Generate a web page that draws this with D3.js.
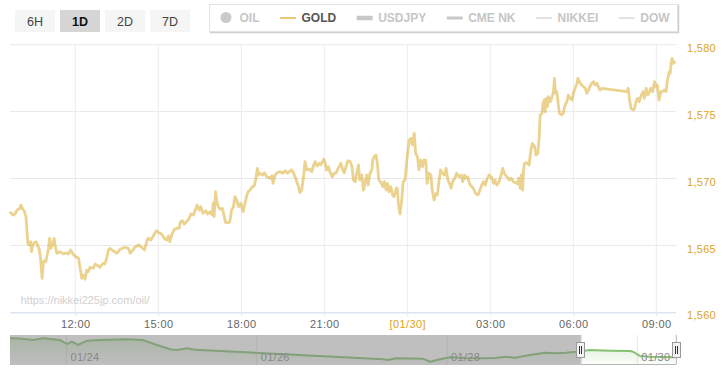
<!DOCTYPE html>
<html><head><meta charset="utf-8">
<script src="https://cdn.jsdelivr.net/npm/d3@7"></script>
<style>
body{margin:0;background:#fff;}
svg{display:block;font-family:"Liberation Sans",Arial,Helvetica,sans-serif;}
</style></head><body>
<svg id="chart" width="726" height="380"></svg>
<script>
// ---------- data ----------
const rangeButtons = ["6H","1D","2D","7D"];
const selectedButton = "1D";
const legendItems = ["OIL","GOLD","USDJPY","CME NK","NIKKEI","DOW"];
const activeSeries = "GOLD";
const watermark = "https://nikkei225jp.com/oil/";

const viewStart = "2020-01-29 09:38:24";
const viewEnd   = "2020-01-30 09:42:36";
const startDay  = "2020-01-29";

const goldTime = [
"09:38","09:42","09:46","09:49","09:53","09:56","10:00","10:02","10:05","10:09","10:13","10:15","10:17","10:20","10:23","10:25","10:28","10:31","10:35","10:38",
"10:42","10:45","10:48","10:51","10:53","10:56","10:59","11:02","11:04","11:07","11:10","11:14","11:16","11:20","11:27","11:34","11:41","11:45","11:50","11:54",
"11:59","12:07","12:10","12:14","12:17","12:21","12:25","12:28","12:32","12:39","12:43","12:50","12:54","12:57","13:01","13:04","13:08","13:12","13:15","13:22",
"13:30","13:37","13:48","13:55","13:59","14:02","14:06","14:09","14:17","14:24","14:30","14:35","14:38","14:44","14:49","14:53","14:56","15:01","15:07","15:13",
"15:18","15:22","15:25","15:29","15:35","15:40","15:45","15:48","15:52","15:56","16:01","16:06","16:11","16:16","16:19","16:24","16:29","16:32","16:37","16:43",
"16:47","16:52","16:57","16:59","17:01","17:04","17:07","17:10","17:14","17:19","17:23","17:26","17:32","17:35","17:39","17:43","17:46","17:50","17:54","17:59",
"18:04","18:08","18:12","18:15","18:19","18:24","18:28","18:31","18:35","18:37","18:41","18:46","18:50","18:55","19:02","19:06","19:09","19:13","19:18","19:24",
"19:30","19:35","19:40","19:44","19:49","19:53","19:59","20:04","20:07","20:11","20:15","20:18","20:22","20:28","20:33","20:36","20:40","20:44","20:49","20:52",
"20:56","20:59","21:02","21:05","21:09","21:12","21:17","21:21","21:25","21:30","21:36","21:40","21:43","21:47","21:51","21:56","22:00","22:03","22:07","22:10",
"22:14","22:17","22:21","22:25","22:28","22:32","22:35","22:39","22:43","22:45","22:48","22:52","22:55","22:58","23:02","23:07","23:10","23:14","23:17","23:20",
"23:24","23:28","23:31","23:36","23:38","23:41","23:44","23:48","23:51","23:55","23:59","00:04","00:08","00:11","00:15","00:18","00:22","00:25","00:29","00:33",
"00:36","00:40","00:43","00:47","00:51","00:54","00:58","01:02","01:05","01:09","01:12","01:16","01:20","01:24","01:28","01:31","01:35","01:38","01:43","01:47",
"01:52","01:57","02:00","02:04","02:07","02:11","02:16","02:20","02:23","02:28","02:33","02:36","02:40","02:45","02:49","02:52","02:57","03:02","03:07","03:10",
"03:14","03:19","03:23","03:27","03:30","03:36","03:41","03:45","03:50","03:55","03:59","04:02","04:05","04:07","04:10","04:12","04:14","04:19","04:24","04:28",
"04:31","04:36","04:39","04:43","04:46","04:48","04:52","04:54","04:57","04:59","05:01","05:04","05:06","05:10","05:13","05:17","05:19","05:21","05:24","05:28",
"05:30","05:35","05:38","05:42","05:46","05:49","05:53","05:57","06:00","06:04","06:08","06:10","06:13","06:18","06:22","06:26","06:29","06:33","06:36","06:40",
"06:44","06:47","06:51","06:54","06:58","07:02","07:56","07:59","08:02","08:05","08:09","08:12","08:16","08:19","08:23","08:26","08:31","08:34","08:38","08:41",
"08:44","08:48","08:52","08:56","09:00","09:02","09:06","09:10","09:13","09:17","09:21","09:24","09:28","09:30","09:32","09:34","09:36","09:38","09:41"
];
const goldPrice = [
1567.52,1567.35,1567.27,1567.35,1567.59,1567.70,1567.77,1568.02,1567.77,1567.59,1567.15,1566.15,1565.16,1565.03,1565.28,1564.53,1565.03,1565.20,1565.28,1565.03,
1564.66,1563.91,1562.54,1563.78,1563.86,1563.78,1564.28,1564.78,1565.53,1564.78,1565.03,1565.53,1565.03,1564.41,1564.53,1564.36,1564.45,1564.36,1564.66,1564.41,
1564.21,1564.04,1563.41,1562.54,1562.79,1562.47,1563.16,1563.03,1563.36,1563.29,1563.61,1563.46,1563.36,1563.54,1563.66,1563.61,1564.04,1564.66,1564.78,1564.60,
1564.41,1564.71,1564.86,1564.78,1564.41,1564.53,1564.71,1564.86,1565.03,1564.86,1564.66,1565.28,1565.53,1565.40,1565.70,1565.95,1566.10,1565.95,1565.85,1565.53,
1565.40,1565.70,1565.28,1565.78,1566.20,1566.28,1566.28,1566.77,1566.85,1566.60,1566.77,1566.95,1567.35,1567.27,1567.52,1568.02,1567.65,1567.89,1567.40,1567.59,
1567.35,1567.52,1567.27,1568.15,1567.15,1569.01,1568.27,1567.89,1567.70,1567.77,1567.15,1566.70,1566.70,1566.77,1567.65,1567.89,1568.64,1568.39,1567.89,1568.15,
1567.52,1568.15,1568.77,1569.01,1569.14,1569.39,1569.44,1569.89,1570.76,1570.26,1570.39,1570.26,1570.43,1570.13,1570.02,1570.19,1569.64,1570.26,1570.43,1570.51,
1570.39,1570.58,1570.39,1570.51,1570.64,1570.43,1569.89,1569.39,1568.94,1569.14,1570.13,1571.26,1570.64,1570.69,1570.51,1570.93,1571.26,1570.93,1571.14,1571.01,
1571.26,1571.44,1571.14,1570.64,1570.88,1570.51,1570.13,1570.39,1570.39,1570.76,1571.14,1570.64,1570.43,1570.88,1571.33,1571.26,1570.88,1569.89,1569.76,1570.39,
1571.01,1569.89,1570.26,1569.14,1569.64,1570.26,1569.51,1570.39,1570.64,1571.38,1571.63,1571.76,1571.14,1569.89,1569.76,1569.39,1569.76,1569.14,1569.64,1569.01,
1569.39,1568.77,1568.64,1569.27,1569.27,1568.02,1567.35,1568.39,1569.76,1569.89,1571.38,1572.88,1573.00,1572.50,1573.38,1571.88,1571.63,1570.64,1571.38,1570.88,
1571.38,1571.38,1569.64,1570.39,1570.26,1569.14,1568.39,1568.89,1568.77,1569.89,1570.64,1570.39,1570.26,1570.76,1569.89,1569.64,1569.27,1569.76,1570.02,1570.39,
1570.13,1570.26,1569.76,1570.26,1570.02,1570.13,1569.51,1569.39,1569.27,1568.89,1568.77,1569.01,1569.39,1569.76,1569.51,1569.89,1570.26,1570.13,1569.64,1569.89,
1569.51,1569.76,1570.26,1570.76,1570.39,1570.13,1569.89,1570.02,1569.76,1569.69,1569.59,1570.02,1569.27,1570.26,1569.14,1570.64,1571.14,1571.18,1571.01,1572.13,
1572.63,1572.38,1571.76,1571.88,1573.12,1574.75,1574.87,1575.62,1575.87,1574.99,1575.99,1575.37,1576.11,1575.74,1575.99,1576.49,1577.49,1576.37,1576.49,1575.37,
1574.87,1574.75,1574.87,1575.49,1575.74,1576.24,1575.99,1575.87,1576.37,1576.74,1577.12,1577.49,1577.24,1576.99,1576.86,1576.74,1576.37,1576.61,1576.86,1577.12,
1577.24,1576.99,1577.12,1576.86,1576.61,1576.74,1576.49,1576.74,1575.87,1575.25,1575.12,1575.17,1575.74,1575.99,1575.74,1576.11,1576.49,1575.99,1576.74,1576.24,
1576.37,1576.74,1576.49,1577.24,1576.86,1576.99,1575.87,1576.49,1576.49,1576.61,1576.49,1577.36,1577.98,1577.86,1578.61,1578.98,1578.61,1578.73,1578.61
];

const xTickTimes  = ["2020-01-29 12:00","2020-01-29 15:00","2020-01-29 18:00","2020-01-29 21:00","2020-01-30 00:00","2020-01-30 03:00","2020-01-30 06:00","2020-01-30 09:00"];
const xTickLabels = ["12:00","15:00","18:00","21:00","[01/30]","03:00","06:00","09:00"];
const yTicks = [1560,1565,1570,1575,1580];

const navStart = "2020-01-23 09:45";
const navEnd   = "2020-01-30 09:45";
const navTime = ["01/23 09:45","01/23 12:16","01/23 15:33","01/23 18:04","01/23 22:22","01/24 00:08","01/24 01:23","01/24 02:54","01/24 05:10","01/24 08:27",
"01/24 15:16","01/24 19:18","01/24 22:50","01/25 02:07","01/25 03:53","01/25 06:24","01/25 08:10","01/25 09:41","01/27 07:50","01/27 09:06",
"01/27 11:07","01/27 14:39","01/27 17:56","01/27 19:42","01/27 22:13","01/28 00:45","01/28 04:32","01/28 08:19","01/28 12:05","01/28 14:52",
"01/28 17:08","01/28 20:55","01/29 00:43","01/29 03:29","01/29 06:00","01/29 08:32","01/29 12:03","01/29 17:07","01/29 22:09","01/29 22:55",
"01/30 00:41","01/30 03:12","01/30 09:30"];
const navValue = [56.23,56.18,55.83,56.23,55.83,54.90,55.44,54.67,55.67,55.83,
56.00,55.83,54.67,53.66,53.50,53.90,53.60,53.50,51.33,51.17,
51.56,51.51,51.47,50.77,51.33,51.80,51.63,51.56,51.63,51.94,
51.70,52.33,52.87,52.73,52.87,53.10,53.50,53.34,53.27,53.10,
52.10,51.94,51.80];
const navTickTimes  = ["01/24 00:00","01/26 00:00","01/28 00:00","01/30 00:00"];
const navTickLabels = ["01/24","01/26","01/28","01/30"];

// ---------- setup ----------
const svg = d3.select("#chart");
const P = {left:10, right:676, top:44.7, bottom:312.3};
const N = {top:335, bottom:365};
const GOLD = "#daa520";

const pFull = d3.timeParse("%Y-%m-%d %H:%M");
const pSec  = d3.timeParse("%Y-%m-%d %H:%M:%S");
const pNav  = s => pFull("2020-" + s.replace("/","-"));

let dayOffset = 0, prevMin = -1;
const base = pFull(startDay + " 00:00");
const gold = goldTime.map((t,i) => {
  const [h,m] = t.split(":").map(Number);
  const mm = h*60+m;
  if (mm < prevMin) dayOffset++;
  prevMin = mm;
  return {t: d3.timeMinute.offset(d3.timeDay.offset(base, dayOffset), mm), v: goldPrice[i]};
});

const x = d3.scaleTime().domain([pSec(viewStart), pSec(viewEnd)]).range([P.left, P.right]);
const y = d3.scaleLinear().domain([1560,1580]).range([P.bottom, P.top]);

// ---------- buttons ----------
const btn = svg.append("g").selectAll("g").data(rangeButtons).join("g")
  .attr("transform",(d,i)=>`translate(${15+i*45},10)`);
btn.append("rect").attr("width",40).attr("height",22)
  .attr("fill",d=>d===selectedButton?"#d6d6d6":"#f5f5f5");
btn.append("text").attr("x",20).attr("y",15.5).attr("text-anchor","middle")
  .attr("font-size",12.5).attr("font-weight",d=>d===selectedButton?"bold":"normal")
  .attr("fill",d=>d===selectedButton?"#111":"#444").text(d=>d);

// ---------- legend ----------
const lg = svg.append("g");
lg.append("rect").attr("x",210.5).attr("y",5.5).attr("width",468).attr("height",27)
  .attr("fill","none").attr("stroke","#d0d0d0").attr("stroke-width",1.5);
lg.append("rect").attr("x",209.5).attr("y",4.5).attr("width",468).attr("height",27)
  .attr("fill","#fff").attr("stroke","#e2e2e2");
let lx = 218;
const symW = {"OIL":16,"GOLD":16,"USDJPY":16,"CME NK":16,"NIKKEI":16,"DOW":16};
const symH = {"GOLD":2,"USDJPY":4.5,"CME NK":3,"NIKKEI":1,"DOW":1};
legendItems.forEach(name => {
  const active = name===activeSeries;
  const col = active ? GOLD : "#c8c8c8";
  if (name==="OIL") {
    lg.append("circle").attr("cx",lx+8).attr("cy",17.5).attr("r",5.5).attr("fill","#cacaca");
  } else {
    lg.append("rect").attr("x",lx).attr("y",18-symH[name]/2).attr("width",symW[name]).attr("height",symH[name])
      .attr("fill",col).attr("opacity",active?0.6:1);
  }
  const t = lg.append("text").attr("x",lx+symW[name]+5.5).attr("y",22).attr("font-size",12)
    .attr("font-weight","bold").attr("fill",active?"#555":"#c6c6c6").text(name);
  lx += symW[name]+5.5+t.node().getComputedTextLength()+20.5;
});

// ---------- grid ----------
const xTicks = xTickTimes.map(pFull);
svg.append("g").selectAll("line").data(yTicks.slice(1)).join("line")
  .attr("x1",P.left).attr("x2",P.right).attr("y1",d=>y(d)).attr("y2",d=>y(d))
  .attr("stroke","#e8e8e8");
svg.append("g").selectAll("line").data(xTicks).join("line")
  .attr("x1",d=>x(d)).attr("x2",d=>x(d)).attr("y1",P.top).attr("y2",P.bottom)
  .attr("stroke","#ececec");

// watermark
svg.append("text").attr("x",20.5).attr("y",304).attr("font-size",11).attr("fill","#d0d0d0").text(watermark);

// ---------- axes ----------
const xAxis = svg.append("g").attr("transform",`translate(0,${P.bottom})`)
  .call(d3.axisBottom(x).tickValues(xTicks).tickFormat((d,i)=>xTickLabels[i]).tickSize(4).tickPadding(3.5));
xAxis.select(".domain").attr("stroke","#ccd6eb").attr("d",`M${P.left},0.5H${P.right}`);
xAxis.selectAll(".tick line").attr("stroke","#e6e6e6");
xAxis.selectAll(".tick text").attr("font-size",11).attr("font-family","inherit")
  .attr("fill",(d,i)=>xTickLabels[i].startsWith("[")?GOLD:"#666").style("letter-spacing","0.4px");

const yAxis = svg.append("g").attr("transform",`translate(${P.right},0)`)
  .call(d3.axisRight(y).tickValues(yTicks).tickFormat(d3.format(",")).tickSize(0).tickPadding(11));
yAxis.select(".domain").remove();
yAxis.selectAll(".tick text").attr("font-size",11).attr("font-family","inherit")
  .attr("fill",GOLD).attr("dy","0.6em").style("letter-spacing","0.3px");

// ---------- gold line ----------
const line = d3.line().x(d=>x(d.t)).y(d=>y(d.v));
svg.append("path").datum(gold).attr("d",line).attr("fill","none")
  .attr("stroke",GOLD).attr("stroke-opacity",0.5).attr("stroke-width",2.8)
  .attr("stroke-linejoin","round");

// ---------- navigator ----------
const nx = d3.scaleTime().domain([pFull(navStart), pFull(navEnd)]).range([P.left, P.right]);
const ny = d3.scaleLinear().domain([50,57]).range([N.bottom, N.top]);
const navData = navTime.map((t,i)=>({t:pNav(t), v:navValue[i]}));

const defs = svg.append("defs");
const grad = defs.append("linearGradient").attr("id","navGrad").attr("x1",0).attr("y1",0).attr("x2",0).attr("y2",1);
grad.append("stop").attr("offset","0%").attr("stop-color","#8cc47a").attr("stop-opacity",0.35);
grad.append("stop").attr("offset","100%").attr("stop-color","#8cc47a").attr("stop-opacity",0.03);

const navTicks = navTickTimes.map(pNav);
svg.append("g").selectAll("line").data(navTicks).join("line")
  .attr("x1",d=>nx(d)).attr("x2",d=>nx(d)).attr("y1",N.top).attr("y2",N.bottom).attr("stroke","#e6e6e6");

svg.append("path").datum(navData)
  .attr("d",d3.area().x(d=>nx(d.t)).y0(N.bottom).y1(d=>ny(d.v)))
  .attr("fill","url(#navGrad)");
svg.append("path").datum(navData)
  .attr("d",d3.line().x(d=>nx(d.t)).y(d=>ny(d.v)))
  .attr("fill","none").attr("stroke","#86c271").attr("stroke-width",2);

const selL = nx(x.domain()[0]), selR = Math.min(P.right, nx(x.domain()[1]));
svg.append("rect").attr("x",P.left).attr("y",N.top).attr("width",selL-P.left).attr("height",N.bottom-N.top)
  .attr("fill","#808080").attr("fill-opacity",0.5);

svg.append("g").selectAll("text").data(navTicks).join("text")
  .attr("x",d=>nx(d)+4).attr("y",361).attr("font-size",11).attr("fill","#888")
  .style("letter-spacing","0.3px").text((d,i)=>navTickLabels[i]);

svg.append("path").attr("d",`M${selL+0.5},${N.top}V${N.bottom-0.5}H${selR+0.5}V${N.top}`)
  .attr("fill","none").attr("stroke","#b5b5b5");

[selL, selR].forEach(cx => {
  const g = svg.append("g").attr("transform",`translate(${Math.round(cx)-4},342)`);
  g.append("rect").attr("x",0.5).attr("y",0.5).attr("width",8).attr("height",15)
    .attr("fill","#f2f2f2").attr("stroke","#999");
  g.append("path").attr("d","M3.5,4V12M5.5,4V12").attr("stroke","#333").attr("stroke-width",1);
});
</script>
</body></html>
